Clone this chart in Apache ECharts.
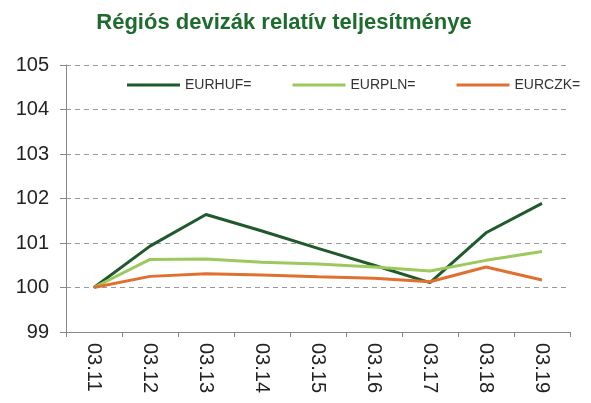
<!DOCTYPE html>
<html>
<head>
<meta charset="utf-8">
<script src="https://cdn.jsdelivr.net/npm/echarts@6/dist/echarts.min.js"></script>
<style>
  html, body { margin: 0; padding: 0; background: #fff; }
  #chart { width: 591px; height: 403px; }
</style>
</head>
<body>
<div id="chart"></div>
<script>
// dátumok
var categories = ['03.11', '03.12', '03.13', '03.14', '03.15', '03.16', '03.17', '03.18', '03.19'];
var seriesNames = ['EURHUF=', 'EURPLN=', 'EURCZK='];
var hufValues = [100, 100.93, 101.64, 101.27, 100.88, 100.5, 100.11, 101.23, 101.89];
var plnValues = [100, 100.63, 100.64, 100.57, 100.53, 100.46, 100.37, 100.61, 100.81];
var czkValues = [100, 100.25, 100.31, 100.28, 100.24, 100.21, 100.13, 100.46, 100.17];
var colors = ['#1f5a2c', '#9cc95c', '#e0702f'];

var myChart = echarts.init(document.getElementById('chart'));

function lineSeries(name, data, color) {
  return {
    name: name,
    type: 'line',
    data: data,
    symbol: 'none',
    lineStyle: { width: 3, color: color },
    itemStyle: { color: color }
  };
}

var option = {
  animation: false,
  title: {
    text: 'Régiós devizák relatív teljesítménye',
    left: 279,
    textAlign: 'center',
    top: 7,
    textStyle: {
      color: '#1e6b2e',
      fontSize: 22,
      fontWeight: 'bold',
      fontFamily: 'Liberation Sans, Arial, sans-serif'
    }
  },
  legend: {
    data: seriesNames,
    left: 122,
    top: 73,
    itemWidth: 53,
    itemHeight: 3,
    itemGap: 41,
    icon: 'rect',
    textStyle: {
      fontSize: 14,
      color: '#333',
      fontFamily: 'Liberation Sans, Arial, sans-serif'
    }
  },
  grid: {
    left: 66,
    right: 21,
    top: 65,
    bottom: 71,
    containLabel: false
  },
  xAxis: {
    type: 'category',
    data: categories,
    boundaryGap: true,
    axisLine: { lineStyle: { color: '#888', width: 1 } },
    axisTick: { show: true, length: 5, lineStyle: { color: '#888' } },
    axisLabel: {
      rotate: -90,
      margin: 11,
      fontSize: 20,
      color: '#222',
      fontFamily: 'Liberation Sans, Arial, sans-serif'
    }
  },
  yAxis: {
    type: 'value',
    min: 99,
    max: 105,
    interval: 1,
    axisLine: { show: true, lineStyle: { color: '#888', width: 1 } },
    axisTick: { show: true, length: 6, lineStyle: { color: '#888' } },
    axisLabel: {
      margin: 17,
      fontSize: 20,
      color: '#222',
      fontFamily: 'Liberation Sans, Arial, sans-serif'
    },
    splitLine: {
      show: true,
      lineStyle: { color: '#999', type: [5, 4], width: 1 }
    }
  },
  series: [
    lineSeries(seriesNames[0], hufValues, colors[0]),
    lineSeries(seriesNames[1], plnValues, colors[1]),
    lineSeries(seriesNames[2], czkValues, colors[2])
  ]
};

myChart.setOption(option);
</script>
</body>
</html>
